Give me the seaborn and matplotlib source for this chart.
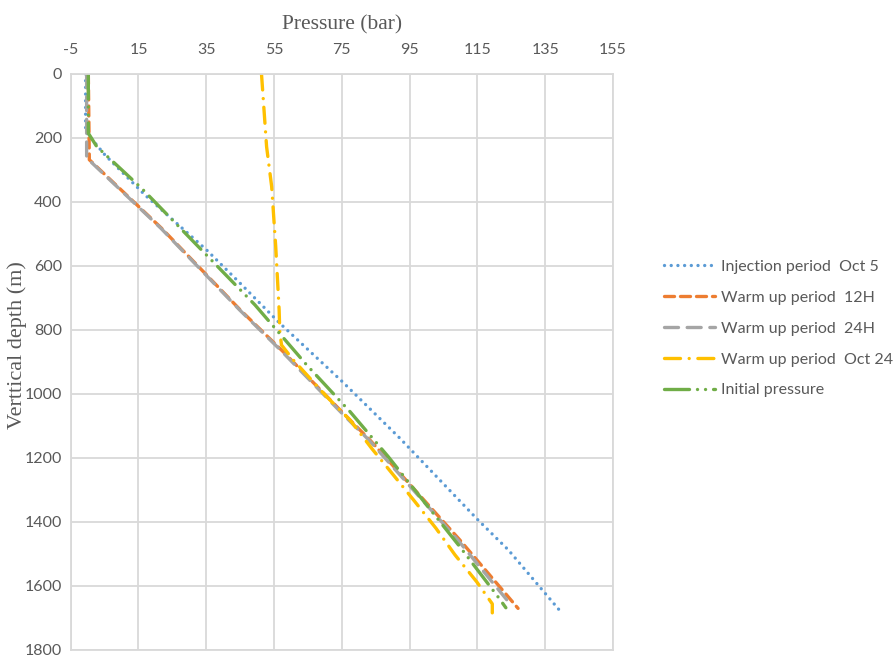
import matplotlib
matplotlib.use("Agg")
import matplotlib.pyplot as plt
import seaborn as sns
import pandas as pd

# Pressure profiles along the well (depth in m, pressure in bar)
depth_injection = [0, 180, 253, 378, 550, 654, 779, 961, 1138, 1394, 1487, 1673]
p_injection = [-0.6, -0.6, 5.1, 16.9, 35.1, 45.0, 56.7, 75.1, 92.1, 115.2, 124.1, 139.0]

depth_12h = [0, 268, 482, 737, 868, 1060, 1144, 1456, 1670]
p_12h = [0.2, 0.5, 21.8, 45.0, 57.7, 75.4, 83.3, 109.8, 127.0]

depth_24h = [0, 262, 482, 737, 868, 1060, 1144, 1456, 1663]
p_24h = [-0.3, -0.3, 21.6, 44.8, 57.4, 75.0, 83.0, 109.2, 125.2]

depth_oct24 = [0, 227, 352, 540, 737, 805, 847, 894, 1008, 1081, 1170, 1253,
               1337, 1420, 1503, 1587, 1656, 1684]
p_oct24 = [51.3, 52.8, 54.3, 55.5, 56.5, 56.7, 57.2, 60.7, 70.5, 77.4, 83.8, 90.2,
           96.6, 102.8, 108.4, 114.8, 119.4, 119.4]

depth_initial = [0, 185, 227, 357, 722, 909, 1055, 1196, 1477, 1637, 1668]
p_initial = [0.2, 0.2, 2.7, 15.9, 49.4, 64.6, 77.4, 88.7, 109.8, 121.3, 123.4]

series_labels = ["Injection period  Oct 5", "Warm up period  12H", "Warm up period  24H",
                 "Warm up period  Oct 24", "Initial pressure"]
x_ticks = [-5, 15, 35, 55, 75, 95, 115, 135, 155]
y_ticks = [0, 200, 400, 600, 800, 1000, 1200, 1400, 1600, 1800]

sns.set_theme(style="white")
plt.rcParams["font.family"] = ["Lato", "DejaVu Sans"]
plt.rcParams["axes.unicode_minus"] = False

fig = plt.figure(figsize=(8.96, 6.57), dpi=100)
ax = fig.add_axes([0.0789, 0.0107, 0.6052, 0.8767])

styles = [
    ("#5B9BD5", (0, (0.01, 2.0))),
    ("#ED7D31", (0, (3.0, 1.8))),
    ("#A5A5A5", (0, (4.2, 2.6))),
    ("#FFC000", (0, (4.8, 2.6, 0.01, 2.6))),
    ("#70AD47", (0, (7.5, 2.4, 0.01, 2.4, 0.01, 2.4))),
]
data = [(p_injection, depth_injection), (p_12h, depth_12h), (p_24h, depth_24h),
        (p_oct24, depth_oct24), (p_initial, depth_initial)]

for (p, d), label, (color, ls) in zip(data, series_labels, styles):
    df = pd.DataFrame({"pressure": p, "depth": d})
    sns.lineplot(data=df, x="pressure", y="depth", sort=False, estimator=None,
                 ax=ax, color=color, lw=2.4, label=label)
    line = ax.lines[-1]
    line.set_linestyle(ls)
    line.set_dash_capstyle("round")
    line.set_solid_capstyle("round")

ax.set_xlim(-5, 155)
ax.set_ylim(1800, 0)
ax.set_xticks(x_ticks)
ax.set_yticks(y_ticks)
ax.xaxis.tick_top()
ax.xaxis.set_label_position("top")
ax.grid(True, color="#D9D9D9", lw=1.3)
ax.set_axisbelow(True)
for s in ax.spines.values():
    s.set_color("#D9D9D9")
    s.set_linewidth(1.3)
ax.tick_params(axis="both", length=0, labelcolor="#595959", labelsize=11.5)
ax.tick_params(axis="x", pad=12)
ax.tick_params(axis="y", pad=6)

ax.set_xlabel("Pressure (bar)", family=["Liberation Serif"], fontsize=15.5,
              color="#595959", labelpad=10)
ax.set_ylabel("Verttical depth (m)", family=["Liberation Serif"], fontsize=16,
              color="#595959")
ax.yaxis.set_label_coords(-0.08, 0.53)

handles, labels = ax.get_legend_handles_labels()
ax.get_legend().remove()
leg = fig.legend(handles, labels, loc="center left", bbox_to_anchor=(0.725, 0.5),
                 frameon=False, fontsize=11.5, handlelength=3.2, labelspacing=1.05,
                 handletextpad=0.4)
for t in leg.get_texts():
    t.set_color("#595959")

fig.savefig("out.png", dpi=100)
